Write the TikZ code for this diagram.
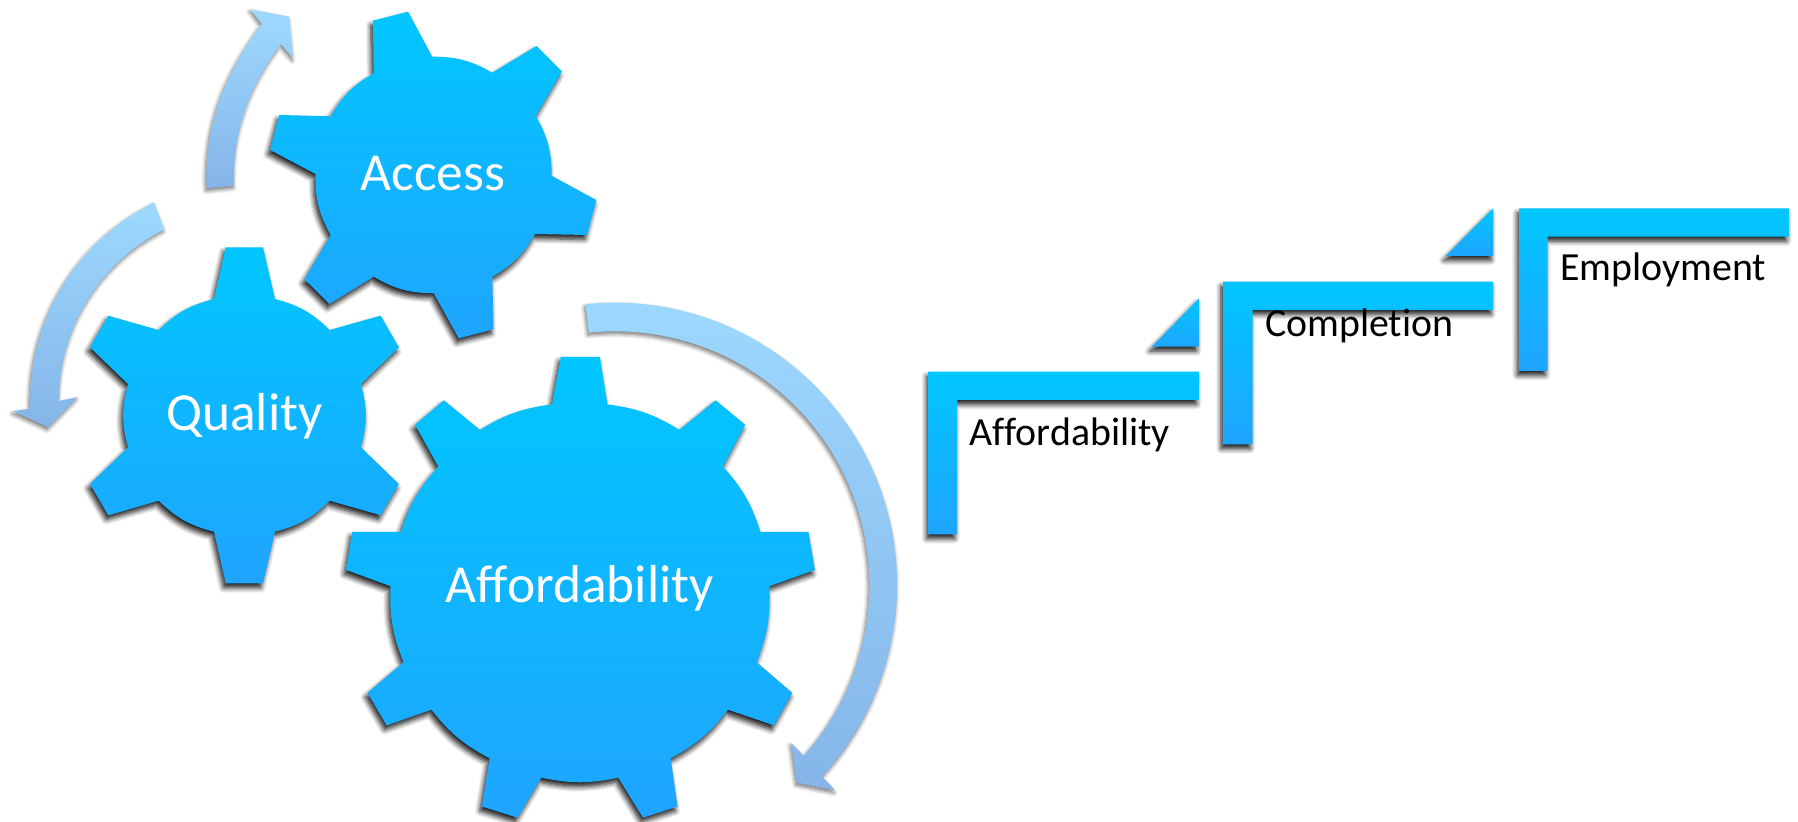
\documentclass[tikz,border=0pt]{standalone}
\usepackage{fontspec}
\setmainfont{Carlito}[Ligatures=CommonOff]
\usetikzlibrary{shadows.blur}
\definecolor{gearTop}{HTML}{00C6FF}
\definecolor{gearBottom}{HTML}{1FA5FF}
\definecolor{arrowTop}{HTML}{9DD9FF}
\definecolor{arrowBottom}{HTML}{85B5E8}
\tikzset{
  gearshape/.style={top color=gearTop, bottom color=gearBottom, blur shadow={shadow xshift=-0.022cm, shadow yshift=-0.045cm, shadow blur radius=0.05cm, shadow blur steps=6, shadow opacity=90}},
  turnarrow/.style={top color=arrowTop, bottom color=arrowBottom, blur shadow={shadow xshift=-0.012cm, shadow yshift=-0.025cm, shadow blur radius=0.04cm, shadow blur steps=6, shadow opacity=55}},
  gearlabel/.style={text=white, inner sep=0, anchor=base, font=\fontsize{15.2pt}{17pt}\selectfont},
  steplabel/.style={text=black, inner sep=0, anchor=base west, font=\fontsize{11.33pt}{13pt}\selectfont}
}
\begin{document}
\begin{tikzpicture}[x=0.01cm, y=-0.01cm]

    \useasboundingbox (0,0) rectangle (1798,822);

    \path[turnarrow] (206.7,188.3) .. controls (204,125) and (224,75) .. (261.7,24) -- (250.7,9.3) -- (289,16.7) -- (293.3,58.3) -- (281,44.3) .. controls (252,82) and (232,130) .. (234.3,185.7) -- cycle;
    \path[turnarrow] (154,202.7) arc (244:178:220.5) -- (13.3,411.3) -- (48.3,427.3) -- (77.3,397.3) -- (59.3,401) arc (179.7:243.3:191) -- cycle;
    \path[turnarrow] (585.6,304.3) arc (-96:42.8:282) -- (835.2,790.5) -- (796.9,782.7) -- (791.2,743) -- (803.8,755.6) arc (42.1:-96:254) -- cycle;

    \path[gearshape] (372.9,20.7) -- (408.1,11.7) -- (432.2,56.7) to[bend left=15] (492.3,72.7) -- (536.6,46) -- (561.9,71.3) -- (535.8,116) to[bend left=15] (551.6,175.7) -- (596.3,200) -- (587.2,235) -- (535,234) to[bend left=15] (492.3,276.7) -- (493.5,329.3) -- (458.7,338.3) -- (433.8,293.3) to[bend left=15] (373.7,276.7) -- (329.4,304) -- (304.5,279.3) -- (330.6,235) to[bend left=15] (315.5,174) -- (270.1,150) -- (279.2,115) -- (330.6,116.3) to[bend left=15] (373.7,73.3) -- cycle;

    \path[gearshape] (225.7,247.3) -- (263,247.3) -- (275,299) to[bend left=15] (329.7,330) -- (380.7,315.7) -- (399,347.3) -- (361,384) to[bend left=15] (361,447.3) -- (399,484) -- (380.7,515.3) -- (329.7,500.7) to[bend left=15] (275,531.7) -- (263,583.3) -- (225.7,583.3) -- (214,531.7) to[bend left=15] (158.7,500.7) -- (108.3,515.3) -- (90,484) -- (128,447.3) to[bend left=15] (128,384) -- (90,347.3) -- (108.3,315.7) -- (158.7,330) to[bend left=15] (214,299) -- cycle;

    \path[gearshape] (560.8,356.8) -- (599.8,356.8) -- (607.5,404.4) to[bend left=12] (679.4,429.8) -- (715.8,400.3) -- (745.2,424.7) -- (723,466.5) to[bend left=12] (760.5,531.9) -- (808.4,531.9) -- (814.9,569.9) -- (769.3,586.2) to[bend left=12] (756.7,662.2) -- (792.3,692.8) -- (773.9,725.4) -- (728,709.7) to[bend left=12] (670.6,758.3) -- (677.5,806.5) -- (643,817.7) -- (618.2,777.6) to[bend left=12] (541.3,777.6) -- (517.5,817.7) -- (481.9,806.5) -- (489.6,758.3) to[bend left=12] (431.4,709.7) -- (386.6,725.4) -- (367.5,692.8) -- (403.5,662.2) to[bend left=12] (390.5,586.2) -- (346.1,569.9) -- (352.2,531.9) -- (400.8,531.9) to[bend left=12] (438.3,466.5) -- (415,424.7) -- (444,400.3) -- (480,429.8) to[bend left=12] (552,404.4) -- cycle;

    \path[gearshape] (928.7,371.7) -- (1198.8,371.7) -- (1198.8,400) -- (957,400) -- (957,534.3) -- (928.7,534.3) -- cycle;
    \path[gearshape] (1198.8,298.7) -- (1198.8,346.7) -- (1151.8,346.7) -- cycle;
    \path[gearshape] (1223.1,281.7) -- (1493.2,281.7) -- (1493.2,310) -- (1252.6,310) -- (1252.6,444.3) -- (1223.1,444.3) -- cycle;
    \path[gearshape] (1493.2,208.3) -- (1493.2,256) -- (1445.7,256) -- cycle;
    \path[gearshape] (1519.3,208.3) -- (1788.8,208.3) -- (1788.8,236.7) -- (1547.6,236.7) -- (1547.6,371) -- (1519.3,371) -- cycle;

    \node[gearlabel] (access) at (433,191) {Access};
    \node[gearlabel] (quality) at (244.5,431) {Quality};
    \node[gearlabel] (affordability) at (579.5,602.5) {Affordability};
    \node[steplabel] (stepaffordability) at (969,445.5) {Affordability};
    \node[steplabel] (stepcompletion) at (1264.5,337) {Completion};
    \node[steplabel] (stepemployment) at (1559.5,281) {Employment};
  \end{tikzpicture}
\end{document}
